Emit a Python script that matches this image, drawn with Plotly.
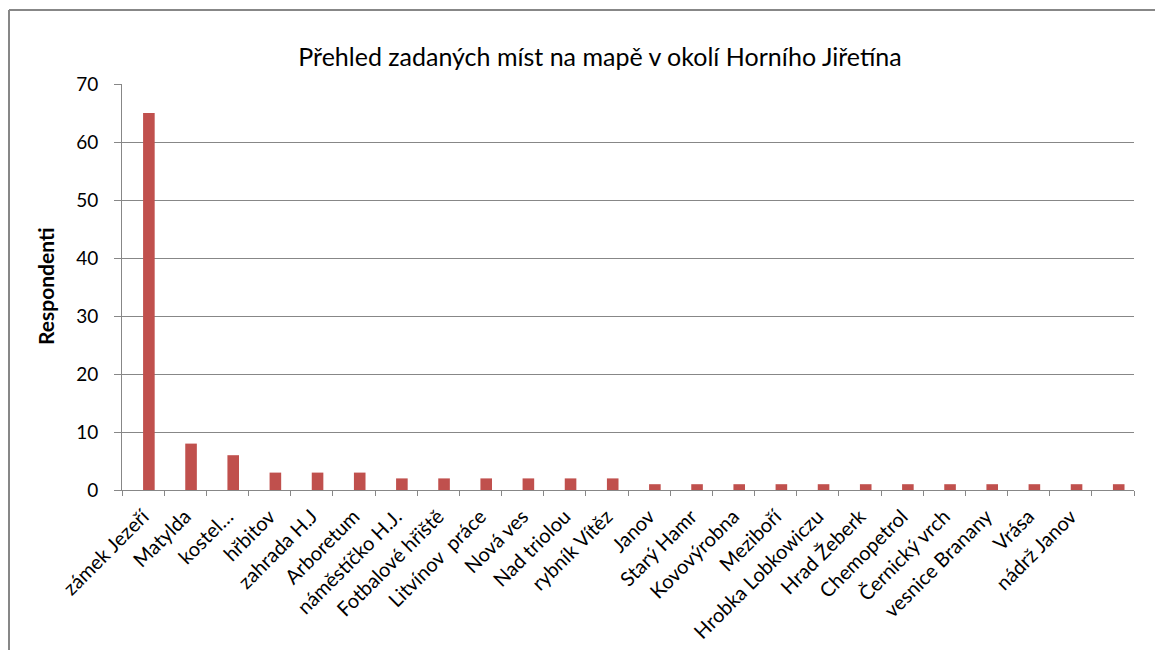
import plotly.graph_objects as go

categories = ["zámek Jezeří", "Matylda", "kostel…", "hřbitov", "zahrada H.J", "Arboretum",
              "náměstíčko H.J.", "Fotbalové hřiště", "Litvínov\u00a0 práce", "Nová ves",
              "Nad triolou", "rybník Vítěz", "Janov", "Starý Hamr", "Kovovýrobna",
              "Meziboří", "Hrobka Lobkowiczu", "Hrad Žeberk", "Chemopetrol",
              "Černický vrch", "vesnice Branany", "Vrása", "nádrž Janov", " "]
values = [65, 8, 6, 3, 3, 3, 2, 2, 2, 2, 2, 2, 1, 1, 1, 1, 1, 1, 1, 1, 1, 1, 1, 1]
y_ticks = [0, 10, 20, 30, 40, 50, 60, 70]

title_text = "Přehled zadaných míst na mapě v okolí Horního Jiřetína"
y_title = "Respondenti"

FONT = "Lato, 'Open Sans', sans-serif"
GRAY = "#878787"

fig = go.Figure(go.Bar(x=categories, y=values, offset=0, width=0.275,
                       marker=dict(color="#C0504D", line=dict(width=0))))

W, H = 1155, 650
ml, mr, mt, mb = 122, 21, 84, 160
pw = W - ml - mr
ph = H - mt - mb

def px_x(p):
    return (p - ml) / pw

def px_y(p):
    return (H - mb - p) / ph

fig.update_layout(
    width=W, height=H,
    margin=dict(l=ml, r=mr, t=mt, b=mb, autoexpand=False),
    paper_bgcolor="white", plot_bgcolor="white",
    showlegend=False,
    font=dict(family=FONT, color="black"),
    title=dict(text=title_text, x=600 / W, xref="container", xanchor="center",
               y=1 - 57 / H, yref="container", yanchor="middle",
               font=dict(size=25, family=FONT, color="black")),
    xaxis=dict(type="category", tickangle=-45, tickson="boundaries", automargin=False,
               showline=True, linecolor=GRAY, linewidth=1,
               ticks="outside", ticklen=5, tickcolor=GRAY, ticklabelstandoff=6,
               showgrid=False, tickfont=dict(size=20, family=FONT, color="black")),
    yaxis=dict(range=[0, 70], tickvals=y_ticks, showline=True, linecolor=GRAY, linewidth=1,
               ticks="outside", ticklen=7, tickcolor=GRAY, automargin=False,
               showgrid=True, gridcolor=GRAY, gridwidth=1, zeroline=False,
               ticklabelstandoff=12,
               tickfont=dict(size=19, family=FONT, color="black")),
    annotations=[dict(text="<b>" + y_title + "</b>", x=px_x(45), y=0.5, xref="paper", yref="paper",
                      textangle=-90, showarrow=False, xanchor="center", yanchor="middle",
                      font=dict(size=21, family=FONT, color="black"))],
    shapes=[
        dict(type="line", xref="paper", yref="paper", x0=px_x(9), x1=px_x(9), y0=px_y(655), y1=px_y(10),
             line=dict(color=GRAY, width=2)),
        dict(type="line", xref="paper", yref="paper", x0=px_x(9), x1=px_x(1160), y0=px_y(10), y1=px_y(10),
             line=dict(color=GRAY, width=2)),
    ],
)

fig.write_html("out.html", config={"displayModeBar": False},
               post_script="document.body.style.margin='0';document.body.style.overflow='hidden';")
